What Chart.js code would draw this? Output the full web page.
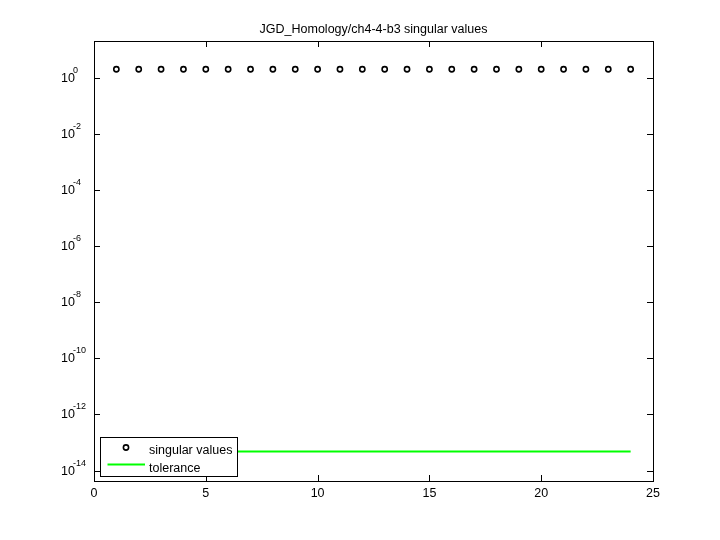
<!DOCTYPE html>
<html>
<head>
<meta charset="utf-8">
<script src="https://cdn.jsdelivr.net/npm/chart.js@4/dist/chart.umd.min.js"></script>
<style>
  html, body { margin: 0; padding: 0; background: #fff; }
  #wrap { width: 720px; height: 540px; }
</style>
</head>
<body>
<div id="wrap"><canvas id="chart" width="720" height="540"></canvas></div>
<script>
  const TITLE = 'JGD_Homology/ch4-4-b3 singular values';
  const INDEX = [1,2,3,4,5,6,7,8,9,10,11,12,13,14,15,16,17,18,19,20,21,22,23,24];
  const SINGULAR_VALUES = [2,2,2,2,2,2,2,2,2,2,2,2,2,2,2,2,2,2,2,2,2,2,2,2];
  const TOL_X = [1, 24];
  const TOL_Y = [4.8e-14, 4.8e-14];
  const X_TICKS = [0, 5, 10, 15, 20, 25];
  const Y_EXPONENTS = [0, -2, -4, -6, -8, -10, -12, -14];
  const Y_MIN = 4.27e-15, Y_MAX = 20.3;
  const FONT = '"Liberation Sans", Arial, sans-serif';

  // axes, ticks, labels, legend drawn matlab-style
  const matlabFrame = {
    id: 'matlabFrame',
    afterDraw(chart) {
      const ctx = chart.ctx;
      const a = chart.chartArea;
      const xs = chart.scales.x, ys = chart.scales.y;
      ctx.save();
      ctx.strokeStyle = '#000';
      ctx.lineWidth = 1;
      ctx.strokeRect(Math.round(a.left) + 0.5, Math.round(a.top) + 0.5,
                     Math.round(a.right - a.left), Math.round(a.bottom - a.top));

      ctx.beginPath();
      X_TICKS.forEach(v => {
        const px = Math.round(xs.getPixelForValue(v)) + 0.5;
        ctx.moveTo(px, a.bottom); ctx.lineTo(px, a.bottom - 6);
        ctx.moveTo(px, a.top); ctx.lineTo(px, a.top + 6);
      });
      Y_EXPONENTS.forEach(e => {
        const py = Math.round(ys.getPixelForValue(Math.pow(10, e))) + 0.5;
        ctx.moveTo(a.left, py); ctx.lineTo(a.left + 6, py);
        ctx.moveTo(a.right, py); ctx.lineTo(a.right - 6, py);
      });
      ctx.stroke();

      ctx.fillStyle = '#000';
      ctx.font = '12.5px ' + FONT;
      ctx.textAlign = 'center';
      ctx.textBaseline = 'middle';
      X_TICKS.forEach(v => {
        ctx.fillText(String(v), xs.getPixelForValue(v), a.bottom + 13);
      });

      Y_EXPONENTS.forEach(e => {
        const py = ys.getPixelForValue(Math.pow(10, e));
        ctx.font = '12.5px ' + FONT;
        ctx.textAlign = 'left';
        ctx.textBaseline = 'alphabetic';
        ctx.fillText('10', 61, py + 4);
        ctx.font = '9px ' + FONT;
        ctx.fillText(String(e), 73, py - 5);
      });

      ctx.font = '12.5px ' + FONT;
      ctx.textAlign = 'center';
      ctx.textBaseline = 'alphabetic';
      ctx.fillText(TITLE, (a.left + a.right) / 2, 33);

      // legend box
      ctx.fillStyle = '#fff';
      ctx.fillRect(100.5, 437.5, 137, 39);
      ctx.strokeRect(100.5, 437.5, 137, 39);
      ctx.beginPath();
      ctx.lineWidth = 1.6;
      ctx.arc(126, 447.5, 2.6, 0, Math.PI * 2);
      ctx.stroke();
      ctx.strokeStyle = '#00ff00';
      ctx.lineWidth = 2;
      ctx.beginPath();
      ctx.moveTo(107.5, 464.5); ctx.lineTo(145, 464.5);
      ctx.stroke();
      ctx.fillStyle = '#000';
      ctx.textAlign = 'left';
      ctx.fillText('singular values', 149, 454);
      ctx.fillText('tolerance', 149, 471.5);
      ctx.restore();
    }
  };

  new Chart(document.getElementById('chart'), {
    type: 'scatter',
    data: {
      datasets: [
        {
          label: 'singular values',
          data: INDEX.map((x, i) => ({ x, y: SINGULAR_VALUES[i] })),
          showLine: false,
          pointStyle: 'circle',
          pointRadius: 2.6,
          pointBorderWidth: 1.6,
          pointBorderColor: '#000',
          pointBackgroundColor: 'rgba(255,255,255,0)'
        },
        {
          label: 'tolerance',
          data: TOL_X.map((x, i) => ({ x, y: TOL_Y[i] })),
          showLine: true,
          borderColor: '#00ff00',
          borderWidth: 2,
          pointRadius: 0
        }
      ]
    },
    options: {
      responsive: false,
      animation: false,
      layout: { padding: { left: 86, right: 67, top: 41, bottom: 51 } },
      plugins: { legend: { display: false }, tooltip: { enabled: false } },
      scales: {
        x: {
          type: 'linear', min: 0, max: 25,
          ticks: { display: false }, grid: { display: false }, border: { display: false }
        },
        y: {
          type: 'logarithmic', min: Y_MIN, max: Y_MAX,
          ticks: { display: false }, grid: { display: false }, border: { display: false }
        }
      }
    },
    plugins: [matlabFrame]
  });
</script>
</body>
</html>
